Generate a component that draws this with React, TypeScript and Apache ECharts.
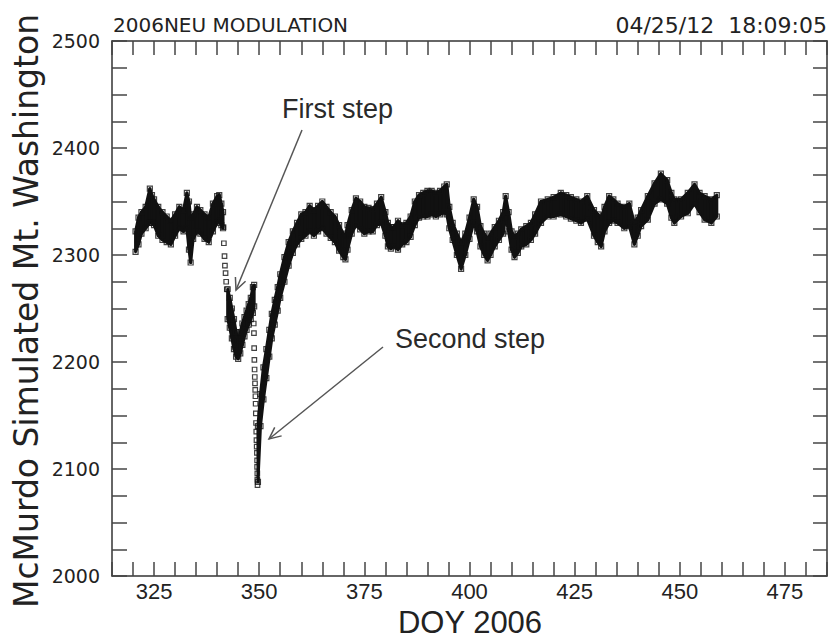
import React, { useEffect, useRef } from "react";
import * as echarts from "echarts";

// ---- Data (DOY vs simulated count rate) ----
// Band before the first step: day, lower edge, upper edge
const preDoy = [320.6, 321.3, 322, 323, 324, 324.5, 325, 326, 327, 328, 329, 330, 331, 332, 332.8, 333.3, 333.7, 334.3, 335.2, 336, 337, 338, 339, 340, 340.5, 341, 341.4];
const preLo = [2303, 2310, 2320, 2325, 2330, 2330, 2328, 2318, 2314, 2312, 2310, 2318, 2325, 2322, 2325, 2305, 2293, 2315, 2322, 2320, 2315, 2312, 2322, 2330, 2332, 2328, 2325];
const preHi = [2322, 2335, 2340, 2345, 2362, 2356, 2352, 2345, 2340, 2336, 2332, 2338, 2345, 2342, 2358, 2350, 2335, 2338, 2345, 2342, 2338, 2335, 2348, 2355, 2356, 2348, 2340];

// V-shaped dip after the first step
const vDoy = [342.5, 343, 343.5, 344, 344.5, 345, 345.5, 346, 346.5, 347, 347.5, 348, 348.5, 348.8];
const vLo = [2240, 2232, 2222, 2212, 2205, 2203, 2208, 2216, 2224, 2230, 2235, 2240, 2246, 2252];
const vHi = [2268, 2260, 2250, 2240, 2228, 2220, 2228, 2236, 2242, 2248, 2254, 2260, 2270, 2272];

// Recovery and the rest of the record
const postDoy = [349.7, 350.3, 351, 351.7, 352.4, 353, 353.7, 354.4, 355, 356, 357, 358, 359, 360, 361, 362, 363, 364, 365, 366, 367, 368, 369, 370, 370.5, 371, 372, 373, 374, 375, 376, 377, 378, 379, 380, 380.6, 381.3, 382, 383, 384, 385, 386, 387, 388, 389, 390, 391, 392, 393, 394, 394.6, 395.2, 396, 397, 398, 399, 400, 401, 401.8, 402.6, 403.5, 404.3, 405, 406, 407, 408, 408.6, 409.3, 410, 410.7, 411.5, 412.3, 413.5, 414.6, 415.6, 417, 418.6, 420, 421.7, 423, 424.1, 425.4, 426.5, 428, 429.6, 430.5, 431.3, 432.1, 433.2, 434.2, 435.2, 436.8, 438, 439.2, 440, 440.8, 442.4, 444, 445.5, 447, 448, 448.7, 450.3, 451.9, 453.5, 454.7, 455.9, 457.5, 458.8];
const postLo = [2088, 2140, 2165, 2185, 2205, 2222, 2235, 2248, 2260, 2275, 2290, 2302, 2310, 2315, 2318, 2322, 2318, 2322, 2325, 2320, 2316, 2312, 2304, 2298, 2296, 2305, 2320, 2328, 2324, 2320, 2322, 2322, 2328, 2330, 2318, 2308, 2306, 2308, 2305, 2310, 2312, 2317, 2328, 2335, 2336, 2336, 2338, 2336, 2338, 2340, 2338, 2325, 2314, 2300, 2287, 2300, 2315, 2330, 2322, 2308, 2300, 2295, 2300, 2308, 2314, 2320, 2335, 2322, 2305, 2298, 2302, 2308, 2310, 2314, 2320, 2330, 2336, 2336, 2338, 2336, 2334, 2332, 2330, 2334, 2318, 2312, 2308, 2322, 2330, 2332, 2330, 2325, 2327, 2310, 2318, 2327, 2333, 2348, 2352, 2348, 2335, 2330, 2336, 2339, 2348, 2340, 2333, 2330, 2336];
const postHi = [2140, 2170, 2195, 2212, 2230, 2245, 2258, 2270, 2282, 2298, 2312, 2322, 2330, 2338, 2340, 2346, 2342, 2346, 2350, 2345, 2340, 2336, 2328, 2320, 2318, 2328, 2342, 2353, 2350, 2345, 2344, 2343, 2348, 2354, 2340, 2330, 2326, 2326, 2332, 2328, 2330, 2336, 2350, 2356, 2358, 2360, 2360, 2358, 2360, 2364, 2366, 2345, 2330, 2320, 2312, 2320, 2335, 2352, 2345, 2327, 2320, 2315, 2320, 2326, 2332, 2340, 2355, 2340, 2322, 2317, 2320, 2324, 2327, 2330, 2338, 2350, 2352, 2354, 2358, 2356, 2354, 2352, 2350, 2355, 2342, 2338, 2335, 2345, 2355, 2352, 2348, 2345, 2348, 2330, 2335, 2342, 2355, 2367, 2376, 2370, 2358, 2352, 2352, 2358, 2366, 2358, 2355, 2352, 2356];

// Isolated points during the two steps
const stepOnePts: [number, number][] = [[341.5, 2326], [341.6, 2311], [341.75, 2299], [341.85, 2290], [342.0, 2283], [342.15, 2275], [342.3, 2268]];
const stepTwoPts: [number, number][] = [[348.7, 2236], [348.75, 2227], [348.8, 2213], [348.85, 2202], [348.9, 2193], [348.95, 2186], [349.0, 2180], [349.05, 2174], [349.1, 2168], [349.15, 2161], [349.2, 2152], [349.25, 2143], [349.3, 2135], [349.35, 2127], [349.4, 2121], [349.45, 2115], [349.5, 2108], [349.5, 2102], [349.55, 2096], [349.55, 2090], [349.6, 2085]];

// Axis settings
const xMin = 315, xMax = 485, xStep = 5, xLabelEvery = 25;
const yMin = 2000, yMax = 2500, yStep = 25, yLabelEvery = 100;

const titleText = "2006NEU MODULATION";
const dateText = "04/25/12  18:09:05";
const xName = "DOY 2006";
const yName = "McMurdo Simulated Mt. Washington";
const noteOne = "First step";
const noteTwo = "Second step";

function buildBand(d: number[], lo: number[], hi: number[]) {
  const out: number[][] = [];
  for (let i = 0; i < d.length - 1; i++) out.push([d[i], lo[i], hi[i], d[i + 1], lo[i + 1], hi[i + 1]]);
  return out;
}
function buildEdges(d: number[], lo: number[], hi: number[]) {
  const out: number[][] = [];
  for (let i = 0; i < d.length; i++) { out.push([d[i], lo[i]]); out.push([d[i], hi[i]]); }
  return out;
}
function arrow(x1: number, y1: number, x2: number, y2: number, color: string) {
  const dx = x2 - x1, dy = y2 - y1;
  const L = Math.hypot(dx, dy);
  const bx = -dx / L, by = -dy / L;
  const a = (25 * Math.PI) / 180, h = 13;
  const p1 = [x2 + h * (bx * Math.cos(a) - by * Math.sin(a)), y2 + h * (bx * Math.sin(a) + by * Math.cos(a))];
  const p2 = [x2 + h * (bx * Math.cos(a) + by * Math.sin(a)), y2 + h * (-bx * Math.sin(a) + by * Math.cos(a))];
  return [
    { type: "line", shape: { x1, y1, x2, y2 }, style: { stroke: color, lineWidth: 1.5 } },
    { type: "polyline", shape: { points: [p1, [x2, y2], p2] }, style: { stroke: color, lineWidth: 1.5, fill: null } },
  ];
}

export default function App() {
  const ref = useRef<HTMLDivElement>(null);
  useEffect(() => {
    if (!ref.current) return;
    const chart = echarts.init(ref.current, null, { renderer: "svg" });
    const bandData = [
      ...buildBand(preDoy, preLo, preHi),
      ...buildBand(vDoy, vLo, vHi),
      ...buildBand(postDoy, postLo, postHi),
    ];
    const edgeData = [
      ...buildEdges(preDoy, preLo, preHi),
      ...buildEdges(vDoy, vLo, vHi),
      ...buildEdges(postDoy, postLo, postHi),
    ];
    const axisLine = { show: true, onZero: false, lineStyle: { color: "#333", width: 1.5 } };
    const tick = (len: number) => ({ show: true, inside: true, length: len, lineStyle: { color: "#444", width: 1.5 } });
    const sq = { color: "rgba(255,255,255,0)", borderColor: "#111", borderWidth: 1.2 };
    const option: any = {
      animation: false,
      backgroundColor: "#fff",
      grid: { left: 112, top: 41, right: 5, bottom: 62 },
      xAxis: [
        {
          type: "value", min: xMin, max: xMax, interval: xStep, position: "bottom",
          axisLine, axisTick: tick(14), splitLine: { show: false },
          axisLabel: {
            formatter: (v: number) => (v % xLabelEvery === 0 ? String(v) : ""),
            fontSize: 22, fontFamily: "Liberation Sans", color: "#222", margin: 4,
          },
        },
        {
          type: "value", min: xMin, max: xMax, interval: xStep, position: "top",
          axisLine, axisTick: tick(14), splitLine: { show: false }, axisLabel: { show: false },
        },
      ],
      yAxis: [
        {
          type: "value", min: yMin, max: yMax, interval: yStep, position: "left",
          axisLine, axisTick: tick(15), splitLine: { show: false },
          axisLabel: {
            formatter: (v: number) => (v % yLabelEvery === 0 ? String(v) : ""),
            fontSize: 19, fontFamily: "DejaVu Sans", color: "#222", margin: 12,
          },
        },
        {
          type: "value", min: yMin, max: yMax, interval: yStep, position: "right",
          axisLine, axisTick: tick(14), splitLine: { show: false }, axisLabel: { show: false },
        },
      ],
      series: [
        {
          type: "custom",
          xAxisIndex: 0, yAxisIndex: 0,
          clip: true,
          data: bandData,
          encode: { x: [0, 3], y: [1, 2, 4, 5] },
          renderItem: (_p: any, api: any) => {
            const pts = [
              api.coord([api.value(0), api.value(2)]),
              api.coord([api.value(3), api.value(5)]),
              api.coord([api.value(3), api.value(4)]),
              api.coord([api.value(0), api.value(1)]),
            ];
            return { type: "polygon", shape: { points: pts }, style: { fill: "#111", stroke: "#111", lineWidth: 3, lineJoin: "round" } };
          },
        },
        {
          type: "scatter", symbol: "rect", symbolSize: 5, data: edgeData, itemStyle: sq,
        },
        {
          type: "scatter", symbol: "rect", symbolSize: 4.5, data: [...stepOnePts, ...stepTwoPts], itemStyle: sq,
        },
      ],
      graphic: [
        { type: "text", x: 113, y: 25, style: { text: titleText, fontSize: 20, fontFamily: "DejaVu Sans", fill: "#222", align: "left", verticalAlign: "middle" } },
        { type: "text", x: 827, y: 25, style: { text: dateText, fontSize: 22, fontFamily: "DejaVu Sans", fill: "#222", align: "right", verticalAlign: "middle" } },
        { type: "text", x: 26, y: 311, rotation: Math.PI / 2, style: { text: yName, fontSize: 33, fontFamily: "DejaVu Sans", fill: "#222", align: "center", verticalAlign: "middle" } },
        { type: "text", x: 470, y: 622, style: { text: xName, fontSize: 31, fontFamily: "Liberation Sans", fill: "#222", align: "center", verticalAlign: "middle" } },
        { type: "text", x: 282, y: 109, style: { text: noteOne, fontSize: 27, fontFamily: "Liberation Sans", fill: "#2a2a2a", align: "left", verticalAlign: "middle" } },
        { type: "text", x: 395, y: 339, style: { text: noteTwo, fontSize: 27, fontFamily: "Liberation Sans", fill: "#2a2a2a", align: "left", verticalAlign: "middle" } },
        ...arrow(302, 130, 236, 290, "#555"),
        ...arrow(383, 347, 269, 439, "#555"),
      ],
    };
    chart.setOption(option);
    return () => chart.dispose();
  }, []);
  return <div ref={ref} style={{ position: "absolute", left: 0, top: 0, width: 832, height: 638 }} />;
}
